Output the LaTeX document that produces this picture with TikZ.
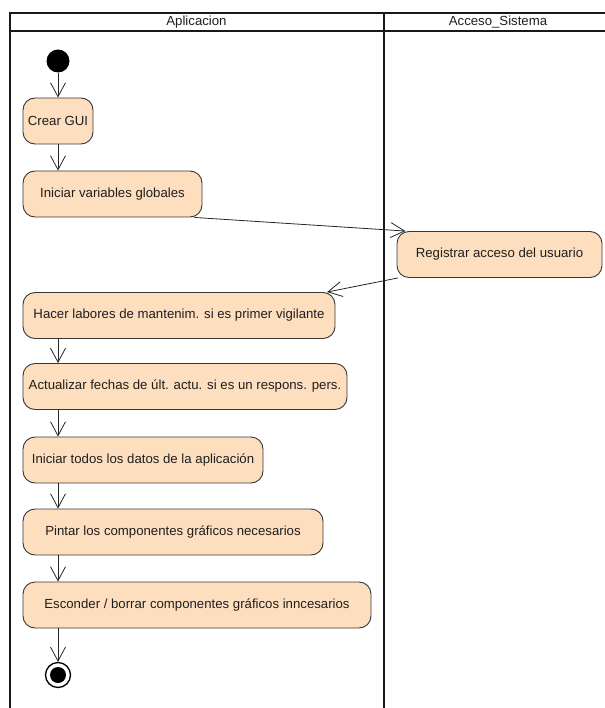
\documentclass[tikz,border=0pt]{standalone}
\usepackage{fontspec}
\setmainfont{Liberation Sans}
\usetikzlibrary{arrows.meta}
\definecolor{actfill}{RGB}{253,222,190}
\definecolor{actline}{RGB}{55,55,55}
\begin{document}
\begin{tikzpicture}[x=1pt,y=-1pt,
  txt/.style={font=\fontsize{13.2}{15}\selectfont, text=black!88},
  action/.style={txt, draw=actline, fill=actfill, rounded corners=12pt,
    line width=0.9pt, inner sep=0pt, minimum height=46pt},
  flow/.style={draw=black!85, line width=0.8pt,
    -{Straight Barb[length=14pt,width=15pt,line width=0.8pt]}},
  lane/.style={line width=2pt, draw=black!90}]
\useasboundingbox (0,0) rectangle (604,708);

% swimlane frame
\draw[lane] (612,13) -- (9.5,13) -- (9.5,712);
\draw[lane] (9.5,31) -- (612,31);
\draw[lane] (384,13) -- (384,712);
\node[txt] (laneA) at (196.5,22) {Aplicacion};
\node[txt] (laneB) at (498,22) {Acceso\_Sistema};

% initial and final nodes
\node[circle, fill=black, minimum size=23pt, inner sep=0pt] (start) at (58,61) {};
\node[circle, draw=black, line width=1.3pt, fill=white, minimum size=25pt, inner sep=0pt] (final) at (58,675) {};
\node[circle, fill=black, minimum size=16pt, inner sep=0pt] (finalDot) at (final) {};

% actions
\node[action, minimum width=70pt]  (crear)  at (58,121)    {Crear GUI};
\node[action, minimum width=179pt] (ivg)    at (112.5,194) {Iniciar variables globales};
\node[action, minimum width=205pt] (reg)    at (499.5,254.5) {Registrar acceso del usuario};
\node[action, minimum width=312pt] (hacer)  at (179,315.5) {Hacer labores de mantenim. si es primer vigilante};
\node[action, minimum width=324pt] (actu)   at (185,386.5) {Actualizar fechas de últ. actu. si es un respons. pers.};
\node[action, minimum width=240pt] (datos)  at (143,460)   {Iniciar todos los datos de la aplicación};
\node[action, minimum width=300pt] (pintar) at (173,532)   {Pintar los componentes gráficos necesarios};
\node[action, minimum width=348pt] (escon)  at (197,605)   {Esconder / borrar componentes gráficos inncesarios};

% control flows
\draw[flow] (start.south) -- (crear.north);
\draw[flow] (crear.south) -- (crear.south |- ivg.north);
\draw[flow] (ivg.-16) -- (reg.166);
\draw[flow] (reg.193) -- (hacer.9);
\draw[flow] (hacer.south -| start) -- (actu.north -| start);
\draw[flow] (actu.south -| start) -- (datos.north -| start);
\draw[flow] (datos.south -| start) -- (pintar.north -| start);
\draw[flow] (pintar.south -| start) -- (escon.north -| start);
\draw[flow] (escon.south -| start) -- (final.north);
\end{tikzpicture}
\end{document}
